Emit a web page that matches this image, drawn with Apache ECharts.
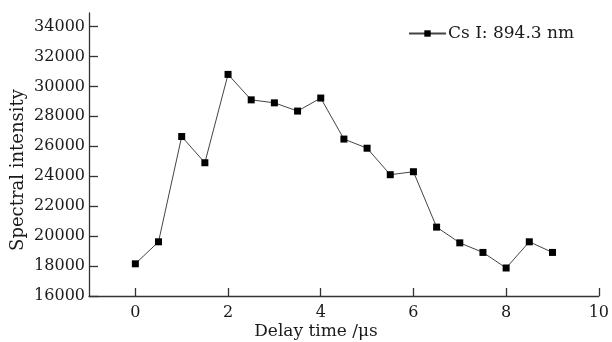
<!DOCTYPE html>
<html>
<head>
<meta charset="utf-8">
<script src="https://cdn.jsdelivr.net/npm/echarts@6/dist/echarts.min.js"></script>
<style>
  html, body { margin: 0; padding: 0; background: #fff; }
  #chart { width: 612px; height: 342px; }
</style>
</head>
<body>
<div id="chart"></div>
<script>
// Cs I 894.3 nm line intensity versus delay time
const delayTimes = [0, 0.5, 1, 1.5, 2, 2.5, 3, 3.5, 4, 4.5, 5, 5.5, 6, 6.5, 7, 7.5, 8, 8.5, 9];
const intensities = [18150, 19620, 26650, 24900, 30800, 29100, 28900, 28350, 29220, 26480,
                     25870, 24100, 24300, 20600, 19550, 18910, 17870, 19620, 18910];
const xTicks = [0, 2, 4, 6, 8, 10];
const yTicks = [16000, 18000, 20000, 22000, 24000, 26000, 28000, 30000, 32000, 34000];
const seriesName = 'Cs I: 894.3 nm';
const xTitle = 'Delay time /\u03bcs';
const yTitle = 'Spectral intensity';

const FONT = 'DejaVu Serif';
const INK = '#1a1a1a';

const chart = echarts.init(document.getElementById('chart'), null, { renderer: 'canvas' });
chart.setOption({
  animation: false,
  backgroundColor: '#fff',
  grid: { left: 89, right: 8, top: 13, bottom: 46, containLabel: false },
  legend: {
    left: 408, top: 25,
    itemWidth: 37, itemHeight: 8,
    itemGap: 0,
    padding: 0,
    textStyle: { fontFamily: FONT, fontSize: 17, color: INK, padding: [0, 0, 0, -3] },
    data: [seriesName]
  },
  graphic: [
    {
      type: 'text', x: 316, y: 332,
      style: { text: xTitle, font: '17px "DejaVu Serif"', fill: INK, align: 'center', verticalAlign: 'middle' }
    },
    {
      type: 'text', x: 18, y: 170, rotation: Math.PI / 2,
      style: { text: yTitle, font: '18px "DejaVu Serif"', fill: INK, align: 'center', verticalAlign: 'middle' }
    }
  ],
  xAxis: {
    type: 'value',
    min: -1, max: 10,
    axisLine: { show: true, onZero: false, lineStyle: { color: '#333', width: 1.3 } },
    axisTick: { show: true, inside: true, length: 8, customValues: xTicks, lineStyle: { color: '#333', width: 1.3 } },
    axisLabel: { customValues: xTicks, fontFamily: FONT, fontSize: 16, color: INK, margin: 9, formatter: v => String(v) },
    splitLine: { show: false }
  },
  yAxis: {
    type: 'value',
    min: 16000, max: 34900,
    axisLine: { show: true, onZero: false, lineStyle: { color: '#333', width: 1.3 } },
    axisTick: { show: true, inside: true, length: 9, customValues: yTicks, lineStyle: { color: '#333', width: 1.3 } },
    axisLabel: { customValues: yTicks, fontFamily: FONT, fontSize: 16, color: INK, margin: 4, formatter: v => String(v) },
    splitLine: { show: false }
  },
  series: [{
    name: seriesName,
    type: 'line',
    data: delayTimes.map((t, i) => [t, intensities[i]]),
    symbol: 'rect',
    symbolSize: 7,
    itemStyle: { color: '#000' },
    lineStyle: { color: '#444', width: 1 }
  }]
});
</script>
</body>
</html>
